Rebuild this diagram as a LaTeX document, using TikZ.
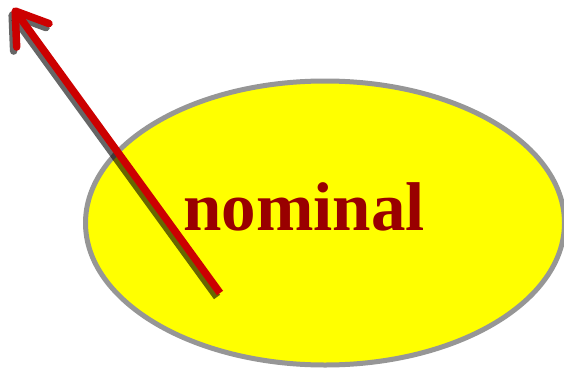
\documentclass[tikz,border=0pt]{standalone}
\usepackage{fontspec}
\setmainfont{Liberation Serif}
\usetikzlibrary{shapes.geometric,arrows.meta}
\definecolor{ellfill}{RGB}{255,255,0}
\definecolor{ellline}{RGB}{150,150,150}
\definecolor{txtred}{RGB}{153,0,0}
\definecolor{arrred}{RGB}{204,0,0}
\tikzset{
  ellbox/.style={ellipse, draw=ellline, fill=ellfill, line width=5pt, inner sep=0pt,
    minimum width=479pt, minimum height=284pt},
  bigword/.style={text=txtred, font=\fontsize{69}{69}\selectfont\bfseries, inner sep=0pt, anchor=base},
  arrowline/.style={line width=7.5pt, -{Straight Barb[length=30pt,width=40pt,round]}},
  arrowshadow/.style={arrowline, draw=black, opacity=0.6},
  arrowmain/.style={arrowline, draw=arrred}
}
\begin{document}
\begin{tikzpicture}[x=1pt,y=-1pt]
\useasboundingbox (0,0) rectangle (564,369);
\node[ellbox] (ell) at (325,223) {};
\node[bigword] (word) at (304,230) {nominal};
\coordinate (tail) at (220,293);
\coordinate (tip) at (13,8);
\coordinate (stail) at ([shift={(-3pt,-4pt)}]tail);
\coordinate (stip) at ([shift={(-3pt,-4pt)}]tip);
\draw[arrowshadow] (stail) -- (stip);
\draw[arrowmain] (tail) -- (tip);
\end{tikzpicture}
\end{document}
